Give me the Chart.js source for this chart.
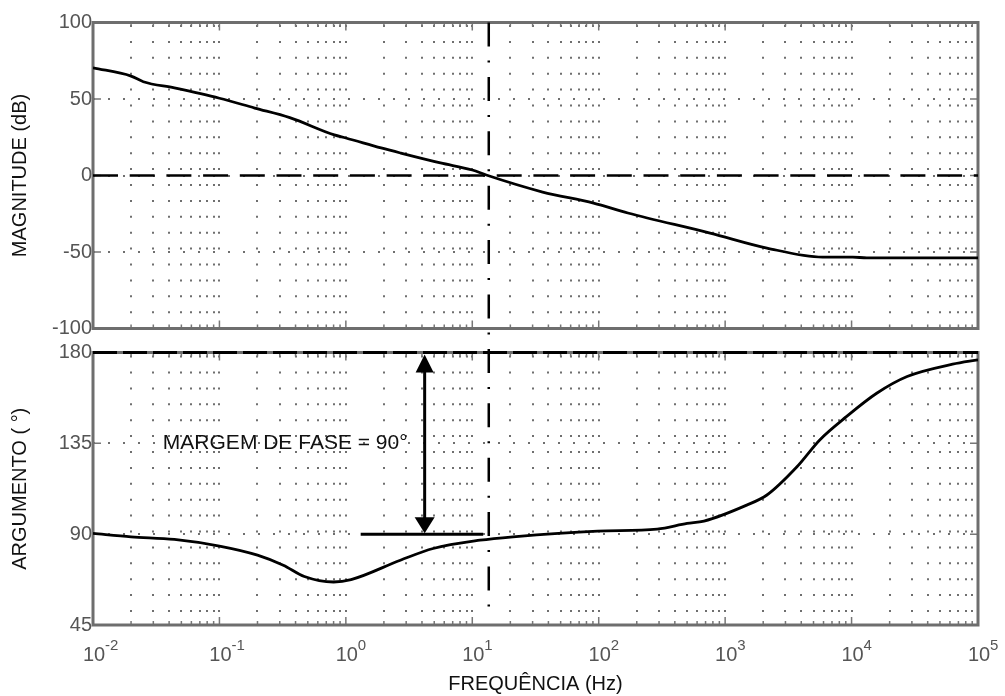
<!DOCTYPE html>
<html>
<head>
<meta charset="utf-8">
<script src="https://cdn.jsdelivr.net/npm/chart.js@4.4.0/dist/chart.umd.min.js"></script>
<style>
  html, body { margin: 0; padding: 0; background: #fff; }
  #wrap { position: relative; width: 1005px; height: 696px; }
  #wrap canvas { position: absolute; left: 0; top: 0; }
</style>
</head>
<body>
<div id="wrap">
  <canvas id="mag-chart" width="1005" height="696"></canvas>
  <canvas id="phase-chart" width="1005" height="696"></canvas>
</div>
<script>
// --- data ---
const magFreqs = [0.01, 0.02, 0.025, 0.044, 0.1, 0.19, 0.36, 0.81, 1, 1.9, 2.7, 5.6, 10, 12.9, 36, 91, 170, 760, 2140, 5900, 10200, 13200, 100000];
const magValues = [70.4, 65.0, 61.3, 57.2, 50.5, 44.1, 37.8, 26.5, 24.5, 18, 14.7, 8.2, 3.6, 0.3, -10.8, -18, -24.5, -37.6, -47.4, -53.3, -53.3, -53.9, -53.9];

const phaseFreqs = [0.01, 0.02, 0.044, 0.1, 0.2, 0.32, 0.47, 0.8, 1.1, 2.7, 4.9, 11.5, 21, 98, 290, 500, 680, 1480, 2140, 3700, 5600, 9100, 15800, 27500, 63000, 100000];
const phaseValues = [90.4, 88.7, 87.4, 84.1, 79.6, 74.6, 69, 66.3, 67.5, 77.1, 82.9, 87, 88.7, 91.5, 92.5, 95.3, 96.5, 104.4, 109.4, 123.4, 136.7, 148.2, 159.8, 168.1, 174.2, 176.4];

const decadeExponents = [-2, -1, 0, 1, 2, 3, 4, 5];
const minorSteps = [1, 2, 3, 4, 5, 6, 7, 8, 9];
const magTicks = [-100, -50, 0, 50, 100];
const phaseTicks = [45, 90, 135, 180];

const crossoverFreq = 13.5; // 0 dB crossing
const marginFreq = 4.2; // arrow position
const marginLineFreqs = [1.31, 12.2];
const marginPhase = 90;
const marginLabel = "MARGEM DE FASE = 90°";
const marginLabelFreq = 0.0357;
const marginLabelPhase = 135;

Chart.defaults.font.family = '"Liberation Sans", Arial, sans-serif';

const FRAME_COLOR = "#6e6e6e";
const DOT_COLOR = "#6f6f6f";
const DOT_SIZE = 2;
const DOT_PERIOD = 15.9;

// todos os valores de grade do eixo log (1..9 x 10^n)
const gridValues = [];
decadeExponents.forEach((e) => {
  minorSteps.forEach((m) => {
    if (e === 5 && m > 1) return;
    gridValues.push(Number((m * Math.pow(10, e)).toPrecision(6)));
  });
});

const makeXScale = (height, dotOffset, title) => ({
  type: "logarithmic",
  min: 0.01,
  max: 100000,
  afterBuildTicks: (axis) => {
    axis.ticks = gridValues.map((v) => ({ value: v }));
  },
  afterFit: (axis) => {
    axis.height = height;
  },
  grid: { color: DOT_COLOR, lineWidth: DOT_SIZE, drawTicks: false },
  border: { display: false, dash: [DOT_SIZE, DOT_PERIOD - DOT_SIZE], dashOffset: dotOffset },
  ticks: { display: false },
  title: title
    ? { display: true, text: title, color: "#111", font: { size: 20 }, padding: { top: 0, bottom: 0 } }
    : { display: false },
});

const makeYScale = (min, max, ticks, title) => ({
  min: min,
  max: max,
  afterBuildTicks: (axis) => {
    axis.ticks = ticks.map((v) => ({ value: v }));
  },
  afterFit: (axis) => {
    axis.width = 93;
  },
  grid: { color: DOT_COLOR, lineWidth: DOT_SIZE, drawTicks: false },
  border: { display: false, dash: [DOT_SIZE, 13] },
  ticks: { color: "#555", font: { size: 20 }, padding: 1 },
  title: { display: true, text: title, color: "#111", font: { size: 20 }, padding: { top: 8, bottom: 0 } },
});

// moldura cinza + pequenos traços internos
const framePlugin = {
  id: "frame",
  beforeDatasetsDraw(chart) {
    const { ctx, chartArea: a, scales } = chart;
    ctx.save();
    ctx.strokeStyle = "#777";
    ctx.lineWidth = 1.5;
    ctx.beginPath();
    gridValues.forEach((v) => {
      const x = scales.x.getPixelForValue(v);
      const len = Math.abs(Math.log10(v) - Math.round(Math.log10(v))) < 1e-6 ? 8 : 4;
      ctx.moveTo(x, a.top);
      ctx.lineTo(x, a.top + len);
      ctx.moveTo(x, a.bottom);
      ctx.lineTo(x, a.bottom - len);
    });
    scales.y.ticks.forEach((t) => {
      const y = scales.y.getPixelForValue(t.value);
      ctx.moveTo(a.left, y);
      ctx.lineTo(a.left + 8, y);
      ctx.moveTo(a.right, y);
      ctx.lineTo(a.right - 8, y);
    });
    ctx.stroke();
    ctx.strokeStyle = FRAME_COLOR;
    ctx.lineWidth = 3;
    ctx.strokeRect(a.left, a.top, a.right - a.left, a.bottom - a.top);
    ctx.restore();
  },
};

const lineStyle = {
  borderColor: "#000",
  pointRadius: 0,
  fill: false,
};

const magChart = new Chart(document.getElementById("mag-chart"), {
  type: "line",
  data: {
    datasets: [
      {
        ...lineStyle,
        data: magFreqs.map((f, i) => ({ x: f, y: magValues[i] })),
        borderWidth: 2.8,
        cubicInterpolationMode: "monotone",
      },
      {
        ...lineStyle,
        data: [{ x: 0.01, y: 0 }, { x: 100000, y: 0 }],
        borderWidth: 2.5,
        borderDash: [25, 11.7],
      },
    ],
  },
  options: {
    responsive: false,
    animation: false,
    devicePixelRatio: 1,
    layout: { padding: { top: 22.5, right: 27, left: 0, bottom: 0 } },
    plugins: { legend: { display: false }, tooltip: { enabled: false } },
    scales: {
      x: makeXScale(696 - 328.5, DOT_PERIOD - 2.5, null),
      y: makeYScale(-100, 100, magTicks, "MAGNITUDE (dB)"),
    },
  },
  plugins: [framePlugin],
});

// anotações: seta, texto, linha traço-ponto, rótulos 10^n
const annotationPlugin = {
  id: "annotations",
  afterDraw(chart) {
    const { ctx, chartArea: a, scales } = chart;
    const xs = scales.x;
    const ys = scales.y;
    ctx.save();

    // linha vertical traço-ponto no cruzamento de 0 dB
    const xc = xs.getPixelForValue(crossoverFreq);
    ctx.strokeStyle = "#000";
    ctx.lineWidth = 2.5;
    ctx.setLineDash([24, 14, 2, 14.4]);
    ctx.beginPath();
    ctx.moveTo(xc, magChart.scales.y.getPixelForValue(100));
    ctx.lineTo(xc, ys.getPixelForValue(51));
    ctx.stroke();
    ctx.setLineDash([]);

    // seta dupla da margem de fase
    const xa = xs.getPixelForValue(marginFreq);
    const yTop = ys.getPixelForValue(180) + 2;
    const yBot = ys.getPixelForValue(marginPhase) - 1;
    ctx.lineWidth = 3;
    ctx.beginPath();
    ctx.moveTo(xa, yTop + 14);
    ctx.lineTo(xa, yBot - 14);
    ctx.stroke();
    ctx.fillStyle = "#000";
    ctx.beginPath();
    ctx.moveTo(xa, yTop);
    ctx.lineTo(xa - 9, yTop + 18);
    ctx.lineTo(xa + 9, yTop + 18);
    ctx.closePath();
    ctx.fill();
    ctx.beginPath();
    ctx.moveTo(xa, yBot);
    ctx.lineTo(xa - 10, yBot - 16);
    ctx.lineTo(xa + 10, yBot - 16);
    ctx.closePath();
    ctx.fill();

    // texto
    ctx.fillStyle = "#111";
    ctx.font = '21px "Liberation Sans", Arial, sans-serif';
    ctx.textAlign = "left";
    ctx.textBaseline = "middle";
    ctx.fillText(marginLabel, xs.getPixelForValue(marginLabelFreq), ys.getPixelForValue(marginLabelPhase));

    // rótulos do eixo x: 10 com expoente
    ctx.fillStyle = "#555";
    ctx.textBaseline = "alphabetic";
    decadeExponents.forEach((e) => {
      const x = xs.getPixelForValue(Math.pow(10, e));
      ctx.font = '20px "Liberation Sans", Arial, sans-serif';
      ctx.textAlign = "center";
      ctx.fillText("10", x + 1, a.bottom + 36);
      ctx.font = '15px "Liberation Sans", Arial, sans-serif';
      ctx.textAlign = "left";
      ctx.fillText(String(e), x + 12, a.bottom + 25);
    });
    ctx.restore();
  },
};

const phaseChart = new Chart(document.getElementById("phase-chart"), {
  type: "line",
  data: {
    datasets: [
      {
        ...lineStyle,
        data: phaseFreqs.map((f, i) => ({ x: f, y: phaseValues[i] })),
        borderWidth: 2.8,
        cubicInterpolationMode: "monotone",
      },
      {
        ...lineStyle,
        data: [{ x: 0.01, y: 180 }, { x: 100000, y: 180 }],
        borderWidth: 3,
        borderDash: [24, 6],
        clip: 4,
      },
      {
        ...lineStyle,
        data: marginLineFreqs.map((f) => ({ x: f, y: marginPhase })),
        borderWidth: 3,
      },
    ],
  },
  options: {
    responsive: false,
    animation: false,
    devicePixelRatio: 1,
    layout: { padding: { top: 352.5, right: 27, left: 0, bottom: 0 } },
    plugins: { legend: { display: false }, tooltip: { enabled: false } },
    scales: {
      x: makeXScale(71, DOT_PERIOD - 3.1, "FREQUÊNCIA (Hz)"),
      y: makeYScale(45, 180, phaseTicks, "ARGUMENTO ( °)"),
    },
  },
  plugins: [framePlugin, annotationPlugin],
});
</script>
</body>
</html>
